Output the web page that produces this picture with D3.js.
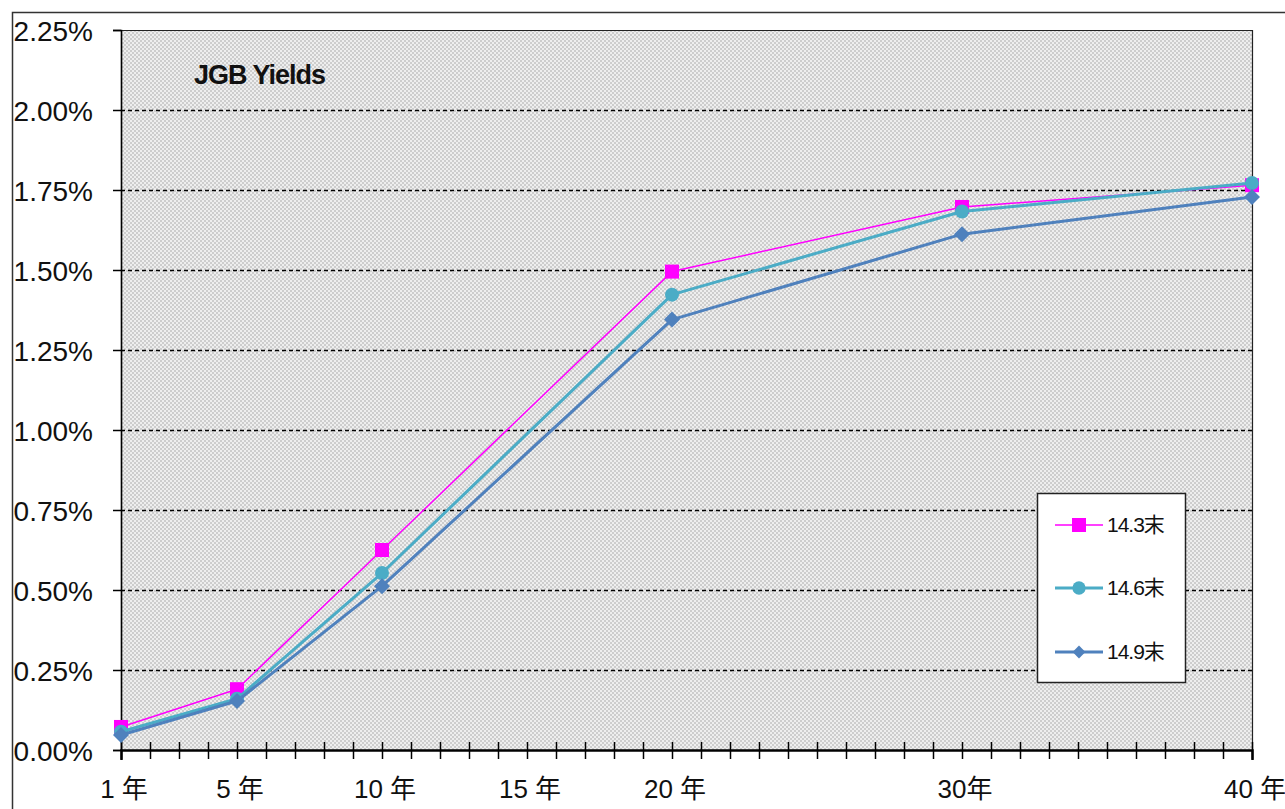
<!DOCTYPE html>
<html><head><meta charset="utf-8">
<script src="https://cdn.jsdelivr.net/npm/d3@7"></script>
<style>body{margin:0;background:#fff;}svg{display:block;}</style>
</head><body>
<script>
const years = [1, 5, 10, 20, 30, 40];
const xTickLabels = [{v:1,t:"1 年"},{v:5,t:"5 年"},{v:10,t:"10 年"},{v:15,t:"15 年"},{v:20,t:"20 年"},{v:30,t:"30年"},{v:40,t:"40 年"}];
const yTicks = [0, 0.25, 0.5, 0.75, 1.0, 1.25, 1.5, 1.75, 2.0, 2.25];
const seriesNames = ["14.3末", "14.6末", "14.9末"];
const s143 = [0.072, 0.19, 0.625, 1.495, 1.697, 1.765];
const s146 = [0.057, 0.16, 0.553, 1.423, 1.683, 1.772];
const s149 = [0.047, 0.153, 0.512, 1.345, 1.612, 1.728];
const seriesValues = [s143, s146, s149];
const colors = ["#ff00ff", "#4bacc6", "#4f81bd"];
const widths = [1.5, 3, 3];
const shapes = ["square", "circle", "diamond"];

const W = 1285, H = 809;
const m = {l:121, r:1252, t:30, b:750};
const svg = d3.select("body").append("svg").attr("width", W).attr("height", H);
const defs = svg.append("defs");
const pat = defs.append("pattern").attr("id","dots").attr("width",4).attr("height",4).attr("patternUnits","userSpaceOnUse");
pat.append("rect").attr("width",4).attr("height",4).attr("fill","#eeeeee");
pat.append("rect").attr("width",2).attr("height",2).attr("fill","#cdcdcd");
pat.append("rect").attr("x",2).attr("y",2).attr("width",2).attr("height",2).attr("fill","#cdcdcd");

// outer frame
svg.append("path").attr("d","M12.5,1000V12.5H1400").attr("fill","none").attr("stroke","#333").attr("stroke-width",1.5);

const x = d3.scaleLinear().domain([1,40]).range([m.l, m.r]);
const y = d3.scaleLinear().domain([0,2.25]).range([m.b, m.t]);

svg.append("rect").attr("x",m.l).attr("y",m.t).attr("width",m.r-m.l).attr("height",m.b-m.t).attr("fill","url(#dots)");

// gridlines
svg.append("g").selectAll("line").data(yTicks.filter(d=>d>0 && d<2.25)).join("line")
  .attr("x1",m.l).attr("x2",m.r).attr("y1",d=>Math.round(y(d))+0.5).attr("y2",d=>Math.round(y(d))+0.5)
  .attr("stroke","#000").attr("stroke-width",1.4).attr("stroke-dasharray","4,3");

// plot border
svg.append("path").attr("d",`M${m.l+0.5},${m.b}V${m.t+0.5}H${m.r+0.5}V${m.b}`).attr("fill","none").attr("stroke","#222").attr("stroke-width",1.2);

// y axis
const yAxis = svg.append("g").attr("transform",`translate(${m.l},0)`)
  .call(d3.axisLeft(y).tickValues(yTicks).tickSize(8).tickFormat(d=>d.toFixed(2)+"%"));
yAxis.select(".domain").attr("stroke","#000").attr("stroke-width",1.5);
yAxis.selectAll(".tick line").attr("stroke","#000").attr("stroke-width",1.5);
yAxis.selectAll(".tick text").attr("font-family","Liberation Sans, Arial, sans-serif").attr("font-size",28)
  .attr("fill","#111").attr("x",-28).attr("dy","0.36em");

// x axis
const xAxis = svg.append("g").attr("transform",`translate(0,${m.b})`)
  .call(d3.axisBottom(x).tickValues(d3.range(1,41)).tickSize(10).tickFormat(""));
xAxis.select(".domain").attr("stroke","#000").attr("stroke-width",2.5);
xAxis.selectAll(".tick line").attr("stroke","#000").attr("stroke-width",1.5).attr("y1",-8).attr("y2",9);
svg.append("g").selectAll("text").data(xTickLabels).join("text")
  .attr("x",d=>x(d.v)+3).attr("y",798).attr("text-anchor","middle")
  .attr("font-family","Liberation Sans, 'Noto Sans CJK JP', sans-serif").attr("font-size",26).attr("fill","#111")
  .text(d=>d.t);

// title
svg.append("text").attr("x",194).attr("y",84).attr("font-family","Liberation Sans, Arial, sans-serif")
  .attr("font-weight","bold").attr("font-size",27).attr("letter-spacing","-1px").attr("fill","#111").text("JGB Yields");

function marker(g, shape, color, cx, cy, scale){
  scale = scale||1;
  if(shape==="square") g.append("rect").attr("x",cx-7*scale).attr("y",cy-7*scale).attr("width",14*scale).attr("height",14*scale).attr("fill",color);
  else if(shape==="circle") g.append("circle").attr("cx",cx).attr("cy",cy).attr("r",7*scale).attr("fill",color);
  else g.append("path").attr("d",`M${cx},${cy-8*scale}L${cx+8*scale},${cy}L${cx},${cy+8*scale}L${cx-8*scale},${cy}Z`).attr("fill",color);
}

const line = d3.line().x((d,i)=>x(years[i])).y(d=>y(d));
seriesValues.forEach((vals,si)=>{
  const g = svg.append("g");
  g.append("path").datum(vals).attr("d",line).attr("fill","none").attr("stroke",colors[si]).attr("stroke-width",widths[si]).attr("stroke-linejoin","round");
  vals.forEach((v,i)=>marker(g, shapes[si], colors[si], x(years[i]), y(v)));
});

// legend
const lg = svg.append("g");
lg.append("rect").attr("x",1037.5).attr("y",493.5).attr("width",148).attr("height",189).attr("fill","#fff").attr("stroke","#222").attr("stroke-width",1.5);
const legY = [525, 588, 652];
seriesNames.forEach((n,i)=>{
  lg.append("line").attr("x1",1055).attr("x2",1103).attr("y1",legY[i]).attr("y2",legY[i]).attr("stroke",colors[i]).attr("stroke-width",widths[i]);
  marker(lg, shapes[i], colors[i], 1079, legY[i], i===0?1:(i===1?0.95:0.8));
  lg.append("text").attr("x",1107).attr("y",legY[i]+7).attr("font-family","Liberation Sans, 'Noto Sans CJK JP', sans-serif")
    .attr("font-size",21).attr("letter-spacing","-1px").attr("fill","#111").text(n);
});
</script>
</body></html>
